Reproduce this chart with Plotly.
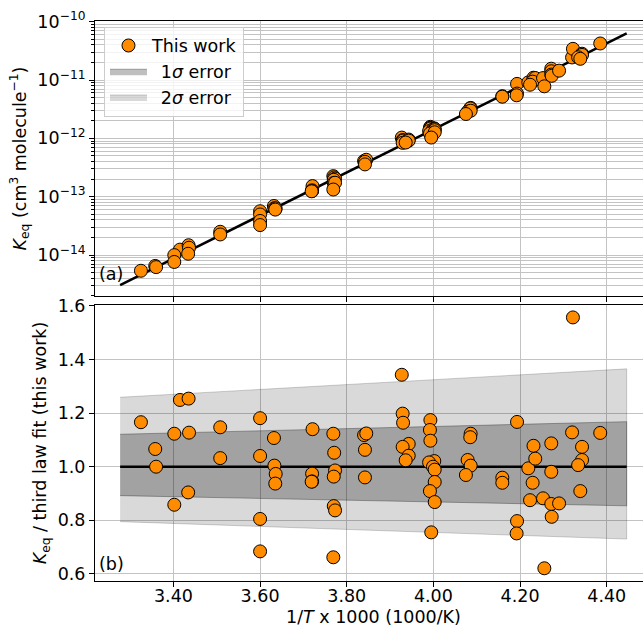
import plotly.graph_objects as go

# ---------------- data ----------------
inv_T = [3.325, 3.358, 3.360, 3.415, 3.435, 3.402, 3.436, 3.434, 3.402, 3.508,
         3.508, 3.600, 3.600, 3.600, 3.600, 3.632, 3.633, 3.636, 3.635, 3.721,
         3.720, 3.720, 3.719, 3.769, 3.771, 3.773, 3.770, 3.770, 3.773, 3.769,
         3.840, 3.845, 3.842, 3.842, 3.927, 3.929, 3.930, 3.943, 3.929, 3.943,
         3.936, 3.993, 3.992, 3.993, 4.002, 3.990, 3.999, 4.003, 4.003, 3.992,
         4.003, 3.995, 4.086, 4.085, 4.079, 4.086, 4.075, 4.159, 4.159, 4.193,
         4.193, 4.192, 4.219, 4.231, 4.235, 4.229, 4.223, 4.253, 4.256, 4.272,
         4.272, 4.272, 4.273, 4.290, 4.320, 4.322, 4.343, 4.343, 4.334, 4.339,
         4.385]

keq = [5.37e-15, 6.50e-15, 6.20e-15, 1.236e-14, 1.471e-14, 9.95e-15, 1.332e-14, 1.051e-14, 7.60e-15, 2.501e-14,
       2.250e-14, 5.627e-14, 4.955e-14, 3.836e-14, 3.260e-14, 6.921e-14, 6.331e-14, 6.293e-14, 6.009e-14, 1.518e-13,
       1.286e-13, 1.248e-13, 1.236e-13, 2.249e-13, 2.143e-13, 2.043e-13, 1.945e-13, 1.723e-13, 1.734e-13, 1.326e-13,
       4.093e-13, 4.295e-13, 3.958e-13, 3.575e-13, 1.030e-12, 9.344e-13, 9.156e-13, 9.530e-13, 8.375e-13, 9.146e-13,
       8.474e-13, 1.577e-12, 1.514e-12, 1.474e-12, 1.481e-12, 1.330e-12, 1.413e-12, 1.446e-12, 1.379e-12, 1.211e-12,
       1.269e-12, 1.032e-12, 3.324e-12, 3.258e-12, 2.859e-12, 2.972e-12, 2.613e-12, 5.278e-12, 5.173e-12, 8.577e-12,
       5.857e-12, 5.470e-12, 9.110e-12, 1.094e-11, 1.081e-11, 9.378e-12, 8.296e-12, 1.079e-11, 7.795e-12, 1.563e-11,
       1.411e-11, 1.238e-11, 1.179e-11, 1.446e-11, 2.438e-11, 3.423e-11, 2.823e-11, 2.694e-11, 2.450e-11, 2.309e-11,
       4.229e-11]

ratio = [1.166, 1.066, 1.000, 1.249, 1.254, 1.123, 1.127, 0.904, 0.858, 1.147,
         1.032, 1.181, 1.040, 0.805, 0.684, 1.107, 1.004, 0.973, 0.937, 1.140,
         0.974, 0.945, 0.944, 1.123, 1.052, 0.986, 0.963, 0.853, 0.837, 0.662,
         1.118, 1.124, 1.063, 0.960, 1.343, 1.198, 1.164, 1.085, 1.074, 1.041,
         1.024, 1.174, 1.137, 1.097, 1.021, 1.016, 1.000, 0.989, 0.943, 0.909,
         0.868, 0.755, 1.123, 1.110, 1.025, 1.004, 0.969, 0.959, 0.940, 1.167,
         0.797, 0.751, 0.994, 1.078, 1.030, 0.940, 0.875, 0.882, 0.621, 1.087,
         0.981, 0.861, 0.813, 0.863, 1.128, 1.557, 1.074, 1.025, 1.006, 0.909,
         1.126]

fit_x = [3.277, 4.446]
fit_keq = [3.06e-15, 6.31e-11]
fit_ratio = [1.0, 1.0]

band_x = [3.277, 4.446]
sig1_hi = [1.121, 1.168]
sig1_lo = [0.892, 0.854]
sig2_hi = [1.259, 1.365]
sig2_lo = [0.795, 0.730]

x_ticks = [3.4, 3.6, 3.8, 4.0, 4.2, 4.4]
x_tick_labels = ["3.40", "3.60", "3.80", "4.00", "4.20", "4.40"]
y_top_ticks = [1e-14, 1e-13, 1e-12, 1e-11, 1e-10]
y_top_labels = ["10<sup>\u221214</sup>", "10<sup>\u221213</sup>", "10<sup>\u221212</sup>",
                "10<sup>\u221211</sup>", "10<sup>\u221210</sup>"]
y_bot_ticks = [0.6, 0.8, 1.0, 1.2, 1.4, 1.6]
y_bot_labels = ["0.6", "0.8", "1.0", "1.2", "1.4", "1.6"]
y_top_minor = [m * 10.0 ** e for e in range(-15, -10) for m in range(2, 10)]

# ---------------- style ----------------
FONT = "DejaVu Sans"
FS = 17.5
ORANGE = "#ff8c00"
GRID = "#c3c3c3"

fig = go.Figure()

# bands (bottom panel)
fig.add_trace(go.Scatter(
    x=band_x + band_x[::-1], y=sig2_hi + sig2_lo[::-1],
    fill="toself", fillcolor="rgba(0,0,0,0.15)",
    line=dict(color="rgba(0,0,0,0.18)", width=1),
    mode="lines", name="\u20022<i>\u03c3</i> error", legendrank=3,
    xaxis="x2", yaxis="y2", hoverinfo="skip"))
fig.add_trace(go.Scatter(
    x=band_x + band_x[::-1], y=sig1_hi + sig1_lo[::-1],
    fill="toself", fillcolor="rgba(0,0,0,0.25)",
    line=dict(color="rgba(0,0,0,0.3)", width=1),
    mode="lines", name="\u20021<i>\u03c3</i> error", legendrank=2,
    xaxis="x2", yaxis="y2", hoverinfo="skip"))
fig.add_trace(go.Scatter(
    x=fit_x, y=fit_ratio, mode="lines",
    line=dict(color="black", width=2.5), showlegend=False,
    xaxis="x2", yaxis="y2"))
fig.add_trace(go.Scatter(
    x=inv_T, y=ratio, mode="markers",
    marker=dict(size=13, color=ORANGE, line=dict(color="black", width=1)),
    showlegend=False, xaxis="x2", yaxis="y2"))

# top panel
fig.add_trace(go.Scatter(
    x=fit_x, y=fit_keq, mode="lines",
    line=dict(color="black", width=2.5), showlegend=False,
    xaxis="x", yaxis="y"))
fig.add_trace(go.Scatter(
    x=inv_T, y=keq, mode="markers", name="This work", legendrank=1,
    marker=dict(size=13, color=ORANGE, line=dict(color="black", width=1)),
    xaxis="x", yaxis="y"))

xrange = [3.219, 4.4837]
common_x = dict(range=xrange, tickvals=x_ticks, showline=True, linecolor="black",
                linewidth=1, mirror=True, ticks="outside", ticklen=5, tickcolor="black",
                showgrid=True, gridcolor=GRID, gridwidth=1, zeroline=False)

fig.update_layout(
    width=643, height=627,
    margin=dict(l=95, r=0, t=21, b=46),
    paper_bgcolor="white", plot_bgcolor="white",
    font=dict(family=FONT, size=FS, color="black"),
    showlegend=True,
    legend=dict(x=0.0164, y=0.99, xanchor="left", yanchor="top",
                bgcolor="rgba(255,255,255,0.8)", bordercolor="#cccccc", borderwidth=1,
                font=dict(family=FONT, size=FS), itemsizing="trace", itemwidth=37,
                tracegroupgap=0),
    xaxis=dict(domain=[0, 1], anchor="y", showticklabels=False, **common_x),
    yaxis=dict(domain=[0.5089, 1], anchor="x", type="log", range=[-14.703, -9.9885],
               tickvals=y_top_ticks, ticktext=y_top_labels,
               showline=True, linecolor="black", linewidth=1, mirror=False,
               ticks="outside", ticklen=5, tickcolor="black",
               showgrid=True, gridcolor=GRID, gridwidth=1, zeroline=False,
               minor=dict(tickvals=y_top_minor, ticks="outside", ticklen=3,
                          tickcolor="black", showgrid=True, gridcolor=GRID, gridwidth=1),
               title=dict(text="<i>K</i><sub>eq</sub> (cm<sup>3</sup> molecule<sup>\u22121</sup>)",
                          font=dict(size=FS), standoff=6)),
    xaxis2=dict(domain=[0, 1], anchor="y2", matches="x", ticktext=x_tick_labels,
                showticklabels=True, ticklabelstandoff=-6, **common_x),
    yaxis2=dict(domain=[0, 0.4929], anchor="x2", range=[0.5735, 1.6034],
                tickvals=y_bot_ticks, ticktext=y_bot_labels,
                showline=True, linecolor="black", linewidth=1, mirror=False,
                ticks="outside", ticklen=5, tickcolor="black",
                showgrid=True, gridcolor=GRID, gridwidth=1, zeroline=False,
                title=dict(text="<i>K</i><sub>eq</sub> / third law fit (this work)",
                           font=dict(size=FS), standoff=6)),
    annotations=[
        dict(text="(a)", x=0.004, y=0.548, xref="paper", yref="paper",
             xanchor="left", yanchor="middle", showarrow=False, font=dict(size=FS)),
        dict(text="(b)", x=0.004, y=0.0304, xref="paper", yref="paper",
             xanchor="left", yanchor="middle", showarrow=False, font=dict(size=FS)),
        dict(text="1/<i>T</i> x 1000 (1000/K)", x=0.509, y=-0.0643, xref="paper", yref="paper",
             xanchor="center", yanchor="middle", showarrow=False, font=dict(size=FS)),
    ],
)

fig.write_html("out.html")
